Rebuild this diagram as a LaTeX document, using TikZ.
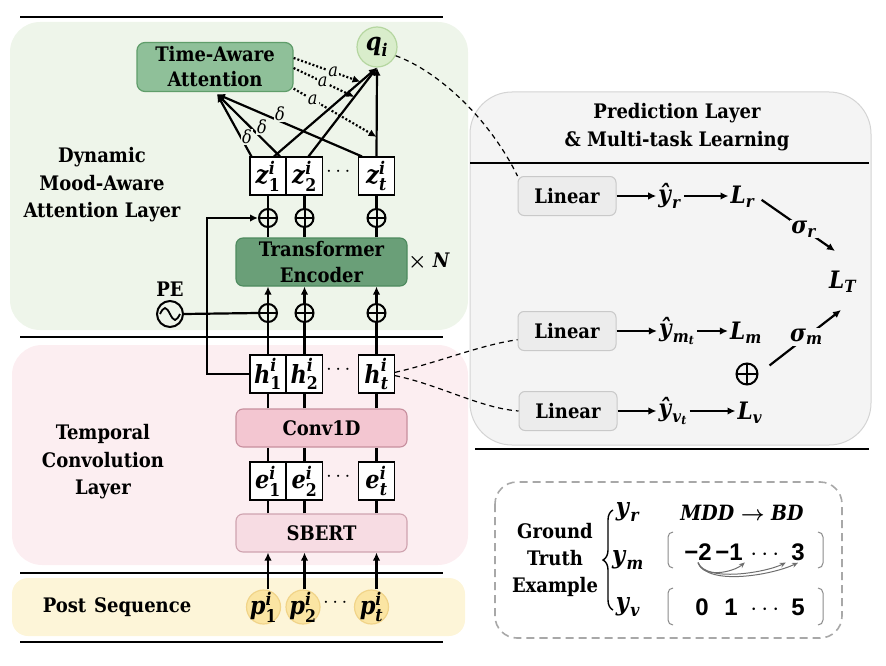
\documentclass[tikz,border=0pt]{standalone}
\usepackage{amsmath}
\usepackage{fontspec}
\setmainfont{DejaVuSerifCondensed}[Extension=.ttf, UprightFont=*, BoldFont=*-Bold, ItalicFont=*-Italic, BoldItalicFont=*-BoldItalic]
\newfontfamily\numfont{Liberation Sans}
\usetikzlibrary{arrows.meta,decorations.pathreplacing,calc}
\newcommand\bv[1]{\textbf{\textit{#1}}}
\definecolor{greenbg}{HTML}{EEF5EA}
\definecolor{pinkbg}{HTML}{FCEEF1}
\definecolor{yellowbg}{HTML}{FDF5D8}
\definecolor{tafill}{HTML}{8FC099}
\definecolor{taborder}{HTML}{5F9D6A}
\definecolor{tefill}{HTML}{6A9F78}
\definecolor{teborder}{HTML}{4D8A5E}
\definecolor{qfill}{HTML}{D9EDCB}
\definecolor{qborder}{HTML}{B5D6A0}
\definecolor{convfill}{HTML}{F3C6D1}
\definecolor{convborder}{HTML}{C78F9E}
\definecolor{sbertfill}{HTML}{F7DCE3}
\definecolor{sbertborder}{HTML}{CFA3AF}
\definecolor{pfill}{HTML}{FBE5A3}
\definecolor{pborder}{HTML}{F1D489}
\definecolor{graybg}{HTML}{F4F4F4}
\definecolor{grayborder}{HTML}{D4D4D4}
\definecolor{linfill}{HTML}{ECECEC}
\definecolor{linborder}{HTML}{C9C9C9}
\definecolor{gtdash}{HTML}{A8A8A8}
\definecolor{brkgray}{HTML}{8A8A8A}
\definecolor{arrgray}{HTML}{6E6E6E}
\begin{document}
\begin{tikzpicture}[x=1pt,y=-1pt,
  every node/.style={font=\bfseries\fontsize{20}{26}\selectfont, inner sep=2pt},
  rule/.style={line width=2.8pt},
  conn/.style={line width=2.2pt},
  arr/.style={conn,-{Latex[length=8pt,width=7.5pt]}},
  dotarr/.style={line width=2.2pt, dash pattern=on 2pt off 2pt, -{Latex[length=8pt,width=7.5pt]}},
  dsh/.style={line width=1.2pt, dash pattern=on 5pt off 4pt},
  mth/.style={font=\bfseries\fontsize{24}{26}\selectfont},
  vbox/.style={draw, line width=1.1pt, fill=white, minimum width=36pt, minimum height=38pt, inner sep=0pt, font=\bfseries\fontsize{25}{26}\selectfont},
  opl/.style={circle, draw, line width=2pt, minimum size=18pt, inner sep=0pt,
    path picture={\draw[line width=2pt] (path picture bounding box.north) -- (path picture bounding box.south) (path picture bounding box.west) -- (path picture bounding box.east);}},
  widebox/.style={draw, rounded corners=7pt, line width=1.1pt, minimum width=171pt, align=center},
  tabox/.style={draw=taborder, fill=tafill, rounded corners=8pt, line width=1.2pt, minimum width=156pt, minimum height=49pt, align=center, font=\bfseries\fontsize{20}{25}\selectfont},
  pcirc/.style={circle, fill=pfill, draw=pborder, line width=1.2pt, minimum size=34pt, inner sep=0pt},
  linbox/.style={draw=linborder, fill=linfill, rounded corners=6pt, line width=1pt, minimum width=98pt, minimum height=39pt},
  dl/.style={fill=greenbg, inner sep=1pt, font=\mdseries\itshape\fontsize{18}{18}\selectfont},
  sl/.style={fill=graybg, inner sep=1pt, font=\bfseries\fontsize{24}{26}\selectfont},
  nf/.style={font=\numfont\bfseries\fontsize{24}{26}\selectfont},
  brk/.style={draw=brkgray, line width=1pt},
  carr/.style={draw=arrgray, line width=1pt, -{Stealth[length=6pt,width=5pt]}},
]
\useasboundingbox (0,0) rectangle (886,666);
% backgrounds
\fill[greenbg, rounded corners=30pt] (10,22) rectangle (468,330);
\fill[pinkbg, rounded corners=30pt] (12,345) rectangle (468,565);
\fill[yellowbg, rounded corners=16pt] (12,578) rectangle (465,636);
\filldraw[fill=graybg, draw=grayborder, line width=1pt, rounded corners=42pt] (470,92) rectangle (871,445);
% rules
\draw[rule] (20,17) -- (443,17);
\draw[rule] (20,337) -- (443,337);
\draw[rule] (20,573) -- (443,573);
\draw[rule] (20,642) -- (443,642);
\draw[rule] (470,163) -- (869,163);
\draw[rule] (475,449) -- (869,449);
% left labels
\node[align=center, font=\bfseries\fontsize{20}{27.5}\selectfont] (lab1) at (102,185) {Dynamic\\Mood-Aware\\Attention Layer};
\node[align=center, font=\bfseries\fontsize{20}{27.5}\selectfont] (lab2) at (103,462) {Temporal\\Convolution\\Layer};
\node (lab3) at (117,607) {Post\hspace{8pt}Sequence};
% attention part
\node[tabox] (ta) at (215,67) {Time-Aware\\Attention};
\node[circle, draw=qborder, fill=qfill, line width=1.2pt, minimum size=40pt, inner sep=0pt, font=\bfseries\fontsize{25}{26}\selectfont] (q) at (377,47) {$\bv{q}_{\bv{i}}$};
\node[vbox] (z1) at (268,176) {$\bv{z}^{\bv{i}}_{\textbf{1}}$};
\node[vbox] (z2) at (304.5,176) {$\bv{z}^{\bv{i}}_{\textbf{2}}$};
\node[vbox] (zt) at (376.5,176) {$\bv{z}^{\bv{i}}_{\bv{t}}$};
\node (zd) at (340,172) {$\cdots$};
\node[opl] (u1) at (268,218) {};
\node[opl] (u2) at (304.5,218) {};
\node[opl] (u3) at (376.5,218) {};
\node[widebox, fill=tefill, draw=teborder, minimum height=48pt] (te) at (321.5,262) {Transformer\\Encoder};
\node (xn) at (429,262) {$\boldsymbol{\times}$ \bv{N}};
\node[opl] (l1) at (268,313) {};
\node[opl] (l2) at (304.5,313) {};
\node[opl] (l3) at (376.5,313) {};
\node (pet) at (170,289) {PE};
\node[circle, draw, line width=2pt, minimum size=26pt, inner sep=0pt] (pe) at (170,314) {};
\draw[line width=1.8pt] ($(pe.center)+(-10,0)$) sin ++(5,-6) cos ++(5,6) sin ++(5,6) cos ++(5,-6);
% conv part
\node[vbox] (h1) at (268,374) {$\bv{h}^{\bv{i}}_{\textbf{1}}$};
\node[vbox] (h2) at (304.5,374) {$\bv{h}^{\bv{i}}_{\textbf{2}}$};
\node[vbox] (ht) at (376.5,374) {$\bv{h}^{\bv{i}}_{\bv{t}}$};
\node (hd) at (340,370) {$\cdots$};
\node[widebox, fill=convfill, draw=convborder, minimum height=38pt] (conv) at (321.5,428) {Conv1D};
\node[vbox] (e1) at (268,481) {$\bv{e}^{\bv{i}}_{\textbf{1}}$};
\node[vbox] (e2) at (304.5,481) {$\bv{e}^{\bv{i}}_{\textbf{2}}$};
\node[vbox] (et) at (376.5,481) {$\bv{e}^{\bv{i}}_{\bv{t}}$};
\node (ed) at (340,477) {$\cdots$};
\node[widebox, fill=sbertfill, draw=sbertborder, minimum height=38pt] (sbert) at (321.5,533) {SBERT};
\node[pcirc] (p1) at (263.5,607) {};
\node[pcirc] (p2) at (303,607) {};
\node[pcirc] (pt) at (371.5,607) {};
\node[font=\bfseries\fontsize{25}{26}\selectfont] (p1t) at (p1) {$\bv{p}^{\bv{i}}_{\textbf{1}}$};
\node[font=\bfseries\fontsize{25}{26}\selectfont] (p2t) at (p2) {$\bv{p}^{\bv{i}}_{\textbf{2}}$};
\node[font=\bfseries\fontsize{25}{26}\selectfont] (ptt) at (pt) {$\bv{p}^{\bv{i}}_{\bv{t}}$};
\node (pd) at (337,603) {$\cdots$};
% vertical connectors
\foreach \p/\e in {p1/e1,p2/e2,pt/et} \draw[arr] (\p.north -| \e) -- (\e |- sbert.south);
\foreach \e in {e1,e2,et} \draw[conn] (\e |- sbert.north) -- (\e.south);
\foreach \e in {e1,e2,et} \draw[conn] (\e.north) -- (\e |- conv.south);
\foreach \h in {h1,h2,ht} \draw[conn] (\h |- conv.north) -- (\h.south);
\foreach \h/\l in {h1/l1,h2/l2,ht/l3} \draw[conn] (\h.north) -- (\l.south);
\foreach \l in {l1,l2,l3} \draw[arr] (\l.north) -- (\l |- te.south);
\draw[conn] (pe.east) -- (l1.west);
\foreach \u in {u1,u2,u3} \draw[conn] (\u |- te.north) -- (\u.south);
\foreach \u/\z in {u1/z1,u2/z2,u3/zt} \draw[conn] (\u.north) -- (\z.south);
\coordinate (sk) at (207,374);
\draw[arr] (h1.west) -- (sk) |- (u1.west);
% attention lines
\coordinate (tain) at ($(ta.south)+(2,2)$);
\draw[arr] ($(z1.north west)+(2,0)$) -- (tain);
\draw[arr] ($(z1.north)+(12,0)$) -- (tain);
\draw[arr] ($(zt.north west)+(4,0)$) -- (tain);
\draw[arr] ($(z1.north)+(6,0)$) -- coordinate[pos=0.84] (t1) (q.south);
\draw[arr] ($(z2.north)+(4,0)$) -- coordinate[pos=0.67] (t2) (q.south);
\draw[arr] (zt.north) -- coordinate[pos=0.22] (t3) (q.south);
\node[dl] (d1) at (247,137) {δ};
\node[dl] (d2) at (262,127) {δ};
\node[dl] (d3) at (280,114) {δ};
\draw[dotarr] ($(ta.north east)!0.32!(ta.south east)$) -- node[dl, pos=0.59] (a1) {a} (t1);
\draw[dotarr] ($(ta.north east)!0.52!(ta.south east)$) -- node[dl, pos=0.48] (a2) {a} (t2);
\draw[dotarr] ($(ta.north east)!0.93!(ta.south east)$) -- node[dl, pos=0.23] (a3) {a} (t3);
% right panel
\node[align=center, font=\bfseries\fontsize{20}{28}\selectfont] (ptitle) at (677,127) {Prediction Layer\\\& Multi-task Learning};
\node[linbox] (lin1) at (567,196) {Linear};
\node[linbox] (lin2) at (567,331) {Linear};
\node[linbox] (lin3) at (568,411) {Linear};
\node[mth] (yr) at (670,196) {$\bv{ŷ}_{\bv{r}}$};
\node[mth] (Lr) at (743,197) {$\bv{L}_{\bv{r}}$};
\node[mth] (ym) at (677,331) {$\bv{ŷ}_{\bv{m}_{\bv{t}}}$};
\node[mth] (Lm) at (746,333) {$\bv{L}_{\bv{m}}$};
\node[mth] (yv) at (673,411) {$\bv{ŷ}_{\bv{v}_{\bv{t}}}$};
\node[mth] (Lv) at (750,413) {$\bv{L}_{\bv{v}}$};
\node[mth] (LT) at (843,282) {$\bv{L}_{\bv{T}}$};
\node[opl, minimum size=21pt] (op) at (747,374) {};
\draw[arr] (lin1.east) -- (lin1.east -| yr.west);
\draw[arr] (yr.east |- lin1) -- (Lr.west |- lin1);
\draw[arr] (lin2.east) -- (lin2.east -| ym.west);
\draw[arr] (ym.east |- lin2) -- (Lm.west |- lin2);
\draw[arr] (lin3.east) -- (lin3.east -| yv.west);
\draw[arr] (yv.east |- lin3) -- (Lv.west |- lin3);
\coordinate (LTa) at (835,251);
\coordinate (LTb) at (841,310);
\draw[arr, shorten <=5pt] (Lr.east) -- node[sl, pos=0.6] (sr) {$\bv{σ}_{\bv{r}}$} (LTa);
\draw[arr, shorten <=14pt] (op.east) -- node[sl, pos=0.58] (sm) {$\bv{σ}_{\bv{m}}$} (LTb);
% dashed links
\draw[dsh] (q.-25) .. controls (440,72) and (490,120) .. (lin1.north west);
\draw[dsh] (ht.5) .. controls (440,362) and (480,345) .. (lin2.190);
\draw[dsh] (ht.-5) .. controls (440,385) and (480,408) .. (lin3.west);
% ground truth
\draw[draw=gtdash, line width=1.6pt, dash pattern=on 8pt off 5pt, rounded corners=22pt] (495,482) rectangle (842,638);
\node[align=center, font=\bfseries\fontsize{20}{27}\selectfont] (gt) at (555,560) {Ground\\Truth\\Example};
\draw[line width=1.4pt, decorate, decoration={brace, amplitude=10pt}] (613,610) -- (613,510);
\node[font=\bfseries\fontsize{25}{26}\selectfont] (yR) at (628,512) {$\bv{y}_{\bv{r}}$};
\node[font=\bfseries\fontsize{25}{26}\selectfont] (yM) at (628,560) {$\bv{y}_{\bv{m}}$};
\node[font=\bfseries\fontsize{25}{26}\selectfont] (yV) at (628,607) {$\bv{y}_{\bv{v}}$};
\node[font=\bfseries\fontsize{21}{26}\selectfont] (mdd) at (742,513) {\bv{MDD} $\boldsymbol{\rightarrow}$ \bv{BD}};
\draw[brk] (673,532) to[out=180,in=90] (668,537) -- (668,563) to[out=-90,in=180] (673,568);
\draw[brk] (818,532) to[out=0,in=90] (823,537) -- (823,563) to[out=-90,in=0] (818,568);
\draw[brk] (673,588) to[out=180,in=90] (668,593) -- (668,620) to[out=-90,in=180] (673,625);
\draw[brk] (818,588) to[out=0,in=90] (823,593) -- (823,620) to[out=-90,in=0] (818,625);
\node[nf] (n1) at (698,552) {−2};
\node[nf] (n2) at (729,552) {−1};
\node[nf] (n4) at (767,552) {\vphantom{2}$\cdots$};
\node[nf] (n3) at (798,552) {3};
\node[nf] (m1) at (702,607) {0};
\node[nf] (m2) at (731,607) {1};
\node[nf] (m4) at (767,607) {\vphantom{2}$\cdots$};
\node[nf] (m3) at (798,607) {5};
\draw[carr] (n1.south) .. controls +(5,16) and +(-12,10) .. (n2.south east);
\draw[carr] (n1.south) .. controls +(8,20) and +(-20,10) .. (n4.south east);
\draw[carr] (n1.south) .. controls +(10,24) and +(-25,12) .. (n3.south);
\end{tikzpicture}
\end{document}
